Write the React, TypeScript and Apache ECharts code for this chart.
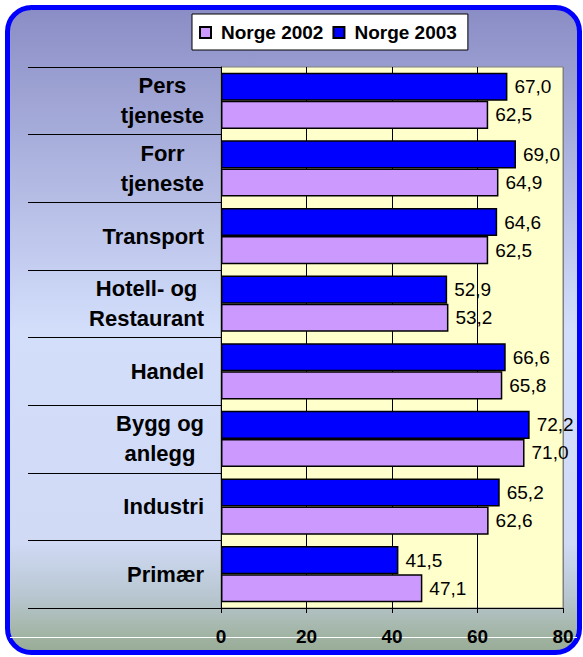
import React, { useEffect, useRef } from "react";
import * as echarts from "echarts";

const categories = [
  "Primær",
  "Industri",
  "Bygg og\nanlegg",
  "Handel",
  "Hotell- og\nRestaurant",
  "Transport",
  "Forr\ntjeneste",
  "Pers\ntjeneste",
];
const norge2002 = [47.1, 62.6, 71.0, 65.8, 53.2, 62.5, 64.9, 62.5];
const norge2003 = [41.5, 65.2, 72.2, 66.6, 52.9, 64.6, 69.0, 67.0];
const seriesNames = ["Norge 2002", "Norge 2003"];
const xTicks = { min: 0, max: 80, interval: 20 };

const FONT = '"Liberation Sans", Arial, sans-serif';

export default function App() {
  const ref = useRef<HTMLDivElement>(null);
  useEffect(() => {
    if (!ref.current) return;
    const chart = echarts.init(ref.current, null, { renderer: "svg" });
    const fmt = (p: any) => Number(p.value).toFixed(1).replace(".", ",");
    const label = {
      show: true,
      position: "right",
      distance: 7,
      formatter: fmt,
      fontFamily: FONT,
      fontSize: 19,
      color: "#000",
    };
    chart.setOption({
      animation: false,
      graphic: [
        {
          type: "rect",
          z: -10,
          shape: { x: 7.5, y: 7.5, width: 572, height: 645, r: 24 },
          style: {
            stroke: "#0000FF",
            lineWidth: 5,
            fill: new echarts.graphic.LinearGradient(0, 0, 0, 1, [
              { offset: 0, color: "#8A8DC5" },
              { offset: 0.5, color: "#D3DEFB" },
              { offset: 0.83, color: "#D0DAF5" },
              { offset: 0.91, color: "#B9C7D2" },
              { offset: 0.97, color: "#A3B5A6" },
              { offset: 1, color: "#97AB95" },
            ]),
          },
        },
        {
          type: "line",
          z: -9,
          shape: { x1: 10, y1: 637.5, x2: 577, y2: 637.5 },
          style: { stroke: "#FFFFFF", lineWidth: 1 },
        },
      ],
      legend: {
        left: 192,
        top: 14,
        data: seriesNames,
        backgroundColor: "#FFFFFF",
        borderColor: "#000000",
        borderWidth: 1,
        padding: [9, 11, 8, 7],
        itemWidth: 11,
        itemHeight: 11,
        itemGap: 9,
        icon: "rect",
        textStyle: {
          fontFamily: FONT,
          fontSize: 19,
          fontWeight: "bold",
          color: "#000",
          padding: [0, 0, 0, 5],
        },
      },
      grid: {
        left: 221,
        right: 20,
        top: 67,
        bottom: 49,
        show: true,
        backgroundColor: "#FFFFCC",
        borderColor: "#808080",
        borderWidth: 1,
        containLabel: false,
      },
      xAxis: {
        type: "value",
        min: xTicks.min,
        max: xTicks.max,
        interval: xTicks.interval,
        axisLine: { show: true, lineStyle: { color: "#000", width: 1 } },
        axisTick: { show: true, length: 5, lineStyle: { color: "#000" } },
        splitLine: {
          show: true,
          lineStyle: { color: ["#000", "#000", "#000", "#000", "#808080"], width: 1 },
        },
        axisLabel: {
          fontFamily: FONT,
          fontSize: 19,
          fontWeight: "bold",
          color: "#000",
          margin: 19,
        },
      },
      yAxis: {
        type: "category",
        data: categories,
        axisLine: { show: true, lineStyle: { color: "#000", width: 1 } },
        axisTick: { show: true, length: 193, lineStyle: { color: "#000", width: 1 } },
        axisLabel: {
          margin: 17,
          align: "right",
          formatter: (v: string) =>
            v
              .split("\n")
              .map((s) => `{a|${s}}`)
              .join("\n"),
          rich: {
            a: {
              fontFamily: FONT,
              fontSize: 22,
              fontWeight: "bold",
              color: "#000",
              align: "center",
              lineHeight: 30,
            },
          },
        },
      },
      series: [
        {
          name: seriesNames[1],
          type: "bar",
          data: norge2003,
          barGap: "0%",
          barCategoryGap: "17%",
          itemStyle: { color: "#0000FF", borderColor: "#000", borderWidth: 1.5 },
          label,
        },
        {
          name: seriesNames[0],
          type: "bar",
          data: norge2002,
          barGap: "0%",
          barCategoryGap: "17%",
          itemStyle: { color: "#CC99FF", borderColor: "#000", borderWidth: 1.5 },
          label,
        },
      ],
    });
    return () => chart.dispose();
  }, []);
  return (
    <div
      ref={ref}
      style={{ position: "absolute", left: 0, top: 0, width: 583, height: 657 }}
    />
  );
}
